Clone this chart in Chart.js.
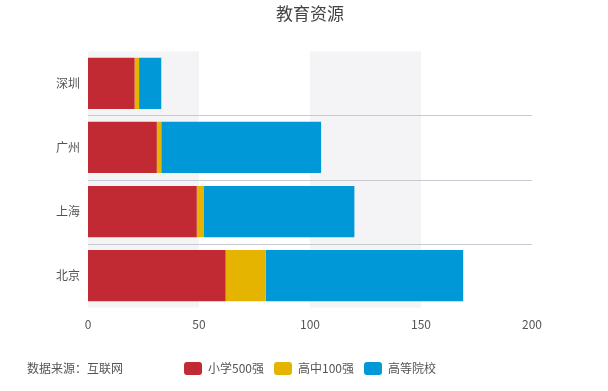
<!DOCTYPE html>
<html>
<head>
<meta charset="utf-8">
<script src="https://cdn.jsdelivr.net/npm/chart.js@4"></script>
<style>
  html, body { margin: 0; padding: 0; background: #fff; }
  #wrap { position: relative; width: 608px; height: 391px; }
  #src { position: absolute; left: 27px; top: 359px; font: 12px "Noto Sans CJK SC", sans-serif; color: #555; white-space: nowrap; }
</style>
</head>
<body>
<div id="wrap">
  <canvas id="c" width="608" height="391"></canvas>
  <div id="src">数据来源：互联网</div>
</div>
<script>
const categories = ['深圳', '广州', '上海', '北京'];
const seriesNames = ['小学500强', '高中100强', '高等院校'];
const primary500 = [21, 31, 49, 62];
const high100 = [2, 2, 3, 18];
const universities = [10, 72, 68, 89];
const xTicks = [0, 50, 100, 150, 200];

const colors = ['#c12a32', '#e5b400', '#0198d8'];
const font = '"Noto Sans CJK SC", "Noto Sans", sans-serif';

const bandsPlugin = {
  id: 'bands',
  beforeDatasetsDraw(chart) {
    const { ctx, chartArea, scales } = chart;
    const x = scales.x, y = scales.y;
    ctx.save();
    ctx.fillStyle = '#f4f4f6';
    for (let i = 0; i + 1 < xTicks.length; i += 2) {
      const a = x.getPixelForValue(xTicks[i]);
      const b = x.getPixelForValue(xTicks[i + 1]);
      ctx.fillRect(a, chartArea.top, b - a, chartArea.bottom - chartArea.top);
    }
    ctx.strokeStyle = '#c9c9d1';
    ctx.lineWidth = 1;
    for (let i = 0; i + 1 < categories.length; i++) {
      const p = Math.round((y.getPixelForValue(i) + y.getPixelForValue(i + 1)) / 2) + 0.5;
      ctx.beginPath();
      ctx.moveTo(chartArea.left, p);
      ctx.lineTo(chartArea.right, p);
      ctx.stroke();
    }
    ctx.restore();
  }
};

new Chart(document.getElementById('c'), {
  type: 'bar',
  data: {
    labels: categories,
    datasets: [
      { label: seriesNames[0], data: primary500, backgroundColor: colors[0] },
      { label: seriesNames[1], data: high100, backgroundColor: colors[1] },
      { label: seriesNames[2], data: universities, backgroundColor: colors[2] }
    ]
  },
  options: {
    indexAxis: 'y',
    responsive: false,
    animation: false,
    devicePixelRatio: 1,
    layout: { padding: { left: 0, right: 76, top: 0, bottom: 6 } },
    datasets: { bar: { barPercentage: 1, categoryPercentage: 0.8 } },
    scales: {
      x: {
        stacked: true, min: 0, max: 200,
        afterBuildTicks(s) { s.ticks = xTicks.map(v => ({ value: v })); },
        afterFit(s) { s.height += 10; },
        grid: { display: false, drawTicks: false },
        border: { display: false },
        ticks: { padding: 10, color: '#555', font: { family: font, size: 12 } }
      },
      y: {
        stacked: true,
        afterFit(s) { s.width = 88; },
        grid: { display: false, drawTicks: false },
        border: { display: false },
        ticks: { padding: 8, color: '#555', font: { family: font, size: 12 } }
      }
    },
    plugins: {
      title: {
        display: true, text: '教育资源', fullSize: false,
        color: '#444', font: { family: font, size: 17, weight: 'normal' },
        padding: { top: 3, bottom: 28 }
      },
      legend: {
        position: 'bottom', fullSize: false,
        labels: {
          boxWidth: 18, boxHeight: 13, useBorderRadius: true, borderRadius: 3,
          padding: 10, color: '#555', font: { family: font, size: 12 }
        }
      },
      tooltip: { enabled: false }
    }
  },
  plugins: [bandsPlugin]
});
</script>
</body>
</html>
